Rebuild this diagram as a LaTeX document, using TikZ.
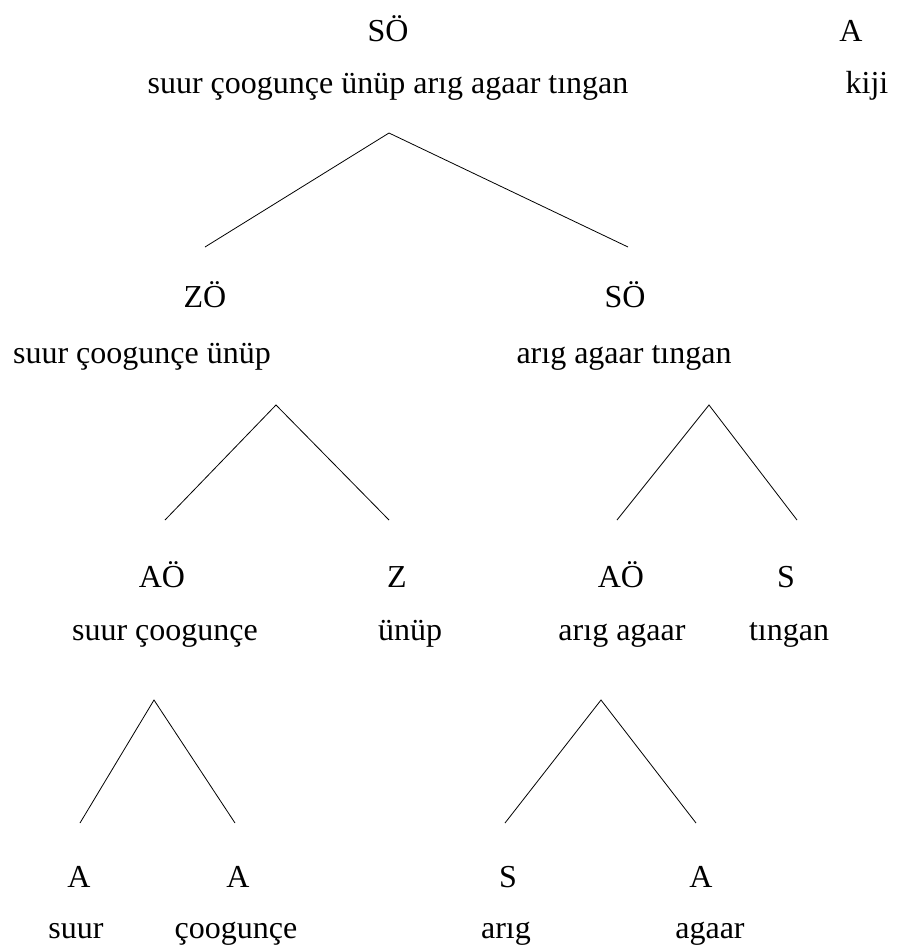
\documentclass[tikz,border=0pt]{standalone}
\usepackage{fontspec}
\setmainfont{Liberation Serif}
\begin{document}
\begin{tikzpicture}[x=1pt,y=-1pt,
  lab/.style={anchor=base, inner sep=0pt, font=\fontsize{32}{38}\selectfont},
  edge/.style={line width=0.8pt, black}]
\useasboundingbox (0,0) rectangle (914,946);
% row 1
\node[lab] (r1l) at (388,41) {SÖ};
\node[lab] (r1t) at (388,93) {suur çoogunçe ünüp arıg agaar tıngan};
\node[lab] (kl) at (851,41) {A};
\node[lab] (kt) at (867,93) {kiji};
% row 2
\node[lab] (zl) at (205,307) {ZÖ};
\node[lab] (zt) at (142,363) {suur çoogunçe ünüp};
\node[lab] (sl) at (625,307) {SÖ};
\node[lab] (st) at (624,363) {arıg agaar tıngan};
% row 3
\node[lab] (a1l) at (162,587) {AÖ};
\node[lab] (a1t) at (165,640) {suur çoogunçe};
\node[lab] (z2l) at (397,587) {Z};
\node[lab] (z2t) at (410,640) {ünüp};
\node[lab] (a2l) at (621,587) {AÖ};
\node[lab] (a2t) at (622,640) {arıg agaar};
\node[lab] (s2l) at (786,587) {S};
\node[lab] (s2t) at (789,640) {tıngan};
% row 4
\node[lab] (b1l) at (79,887) {A};
\node[lab] (b1t) at (76,938) {suur};
\node[lab] (b2l) at (238,887) {A};
\node[lab] (b2t) at (236,938) {çoogunçe};
\node[lab] (b3l) at (508,887) {S};
\node[lab] (b3t) at (506,938) {arıg};
\node[lab] (b4l) at (701,887) {A};
\node[lab] (b4t) at (710,938) {agaar};
% connector points
\coordinate (p1) at (389,133);
\coordinate (p1a) at (205,247);
\coordinate (p1b) at (628,247);
\coordinate (p2) at (276,405);
\coordinate (p2a) at (165,520);
\coordinate (p2b) at (389,520);
\coordinate (p3) at (709,405);
\coordinate (p3a) at (617,520);
\coordinate (p3b) at (797,520);
\coordinate (p4) at (154,700);
\coordinate (p4a) at (80,823);
\coordinate (p4b) at (235,823);
\coordinate (p5) at (601,700);
\coordinate (p5a) at (505,823);
\coordinate (p5b) at (696,823);
\draw[edge] (p1a) -- (p1) -- (p1b);
\draw[edge] (p2a) -- (p2) -- (p2b);
\draw[edge] (p3a) -- (p3) -- (p3b);
\draw[edge] (p4a) -- (p4) -- (p4b);
\draw[edge] (p5a) -- (p5) -- (p5b);
\end{tikzpicture}
\end{document}
